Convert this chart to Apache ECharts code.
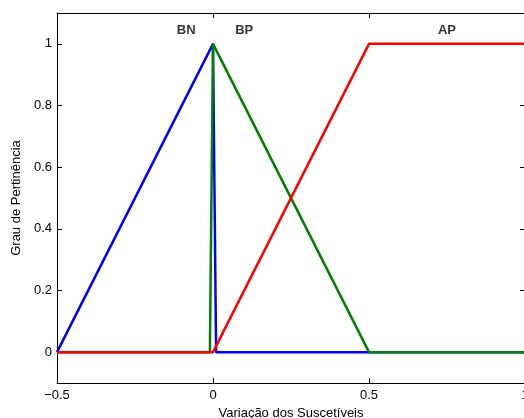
<!DOCTYPE html>
<html>
<head>
<meta charset="utf-8">
<script src="https://cdn.jsdelivr.net/npm/echarts@6/dist/echarts.min.js"></script>
<style>
html,body{margin:0;padding:0;background:#fff;}
#c{width:524px;height:418px;}
</style>
</head>
<body>
<div id="c"></div>
<script>
const bnX = [-0.5, 0, 0.01, 1];
const bnY = [0, 1, 0, 0];
const bpX = [-0.5, -0.01, 0, 0.5, 1];
const bpY = [0, 0, 1, 0, 0];
const apX = [-0.5, 0, 0.5, 1];
const apY = [0, 0, 1, 1];
const xTicks = [-0.5, 0, 0.5, 1];
const yTicks = [0, 0.2, 0.4, 0.6, 0.8, 1];
const setNames = ['BN', 'BP', 'AP'];
const setLabelX = [-0.086, 0.1, 0.75];
const setLabelY = [1.045, 1.045, 1.045];

const FONT = 'Liberation Sans';
const pair = (xs, ys) => xs.map((x, i) => [x, ys[i]]);

const chart = echarts.init(document.getElementById('c'));
const axisCommon = {
  type: 'value',
  axisLine: { show: true, onZero: false, lineStyle: { color: '#000', width: 1 } },
  splitLine: { show: false }
};
chart.setOption({
  animation: false,
  backgroundColor: '#fff',
  grid: { left: 57, right: -1, top: 13, bottom: 35, containLabel: false, outerBoundsMode: 'none' },
  xAxis: [
    Object.assign({}, axisCommon, {
      min: -0.5, max: 1, interval: 0.5, position: 'bottom',
      axisTick: { show: true, inside: true, length: 5, lineStyle: { color: '#000' } },
      axisLabel: {
        show: true, margin: 6, color: '#000', fontSize: 13, fontFamily: FONT,
        formatter: v => String(v).replace('-', '\u2212')
      },
      name: 'Variação dos Suscetíveis', nameLocation: 'middle', nameGap: 19,
      nameTextStyle: { color: '#000', fontSize: 13, fontFamily: FONT }
    }),
    Object.assign({}, axisCommon, {
      min: -0.5, max: 1, interval: 0.5, position: 'top',
      axisTick: { show: true, inside: true, length: 5, lineStyle: { color: '#000' } },
      axisLabel: { show: false }
    })
  ],
  yAxis: [
    Object.assign({}, axisCommon, {
      min: -0.1, max: 1.1, position: 'left',
      axisTick: { show: true, inside: true, length: 5, customValues: yTicks, lineStyle: { color: '#000' } },
      axisLabel: {
        show: true, margin: 5, color: '#000', fontSize: 13, fontFamily: FONT,
        customValues: yTicks, formatter: v => String(v)
      },
      name: 'Grau de Pertinência', nameLocation: 'middle', nameGap: 33,
      nameTextStyle: { color: '#000', fontSize: 13, fontFamily: FONT }
    }),
    Object.assign({}, axisCommon, {
      min: -0.1, max: 1.1, position: 'right',
      axisTick: { show: true, inside: true, length: 5, customValues: yTicks, lineStyle: { color: '#000' } },
      axisLabel: { show: false, customValues: yTicks }
    })
  ],
  series: [
    { type: 'line', name: 'BN', data: pair(bnX, bnY), symbol: 'none', z: 2,
      lineStyle: { color: '#0000ff', width: 2.5 } },
    { type: 'line', name: 'BP', data: pair(bpX, bpY), symbol: 'none', z: 3,
      lineStyle: { color: '#008000', width: 2.5 } },
    { type: 'line', name: 'AP', data: pair(apX, apY), symbol: 'none', z: 4,
      lineStyle: { color: '#ff0000', width: 2.5 } },
    { type: 'scatter', symbolSize: 0, z: 5, silent: true,
      data: setNames.map((n, i) => ({ value: [setLabelX[i], setLabelY[i]], name: n })),
      label: { show: true, position: 'inside', formatter: p => p.name,
        color: '#000', fontSize: 13, fontWeight: 'bold', fontFamily: FONT } }
  ]
});
</script>
</body>
</html>
